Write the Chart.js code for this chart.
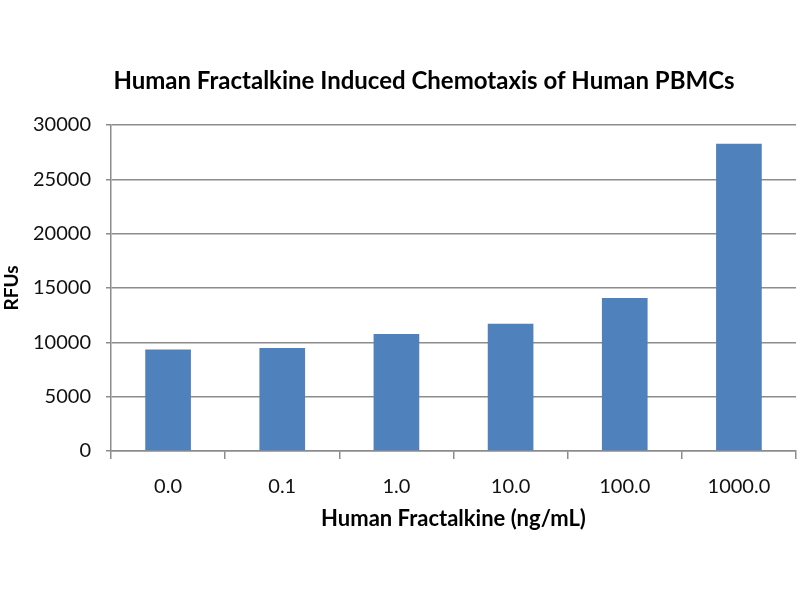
<!DOCTYPE html>
<html>
<head>
<meta charset="utf-8">
<script src="https://cdn.jsdelivr.net/npm/chart.js@4/dist/chart.umd.min.js"></script>
<style>
  html, body { margin: 0; padding: 0; background: #fff; }
  #wrap { width: 800px; height: 600px; }
</style>
</head>
<body>
<div id="wrap"><canvas id="chart" width="800" height="600"></canvas></div>
<script>
// Human Fractalkine chemotaxis bar chart

var doses = ['0.0', '0.1', '1.0', '10.0', '100.0', '1000.0'];
var rfus = [9350, 9470, 10760, 11710, 14080, 28280];
var yTicks = [0, 5000, 10000, 15000, 20000, 25000, 30000];

var titleText = 'Human Fractalkine Induced Chemotaxis of Human PBMCs';
var xTitle = 'Human Fractalkine (ng/mL)';
var yTitle = 'RFUs';

var fontFam = 'Lato, "Open Sans", sans-serif';
var gridCol = '#8c8c8c';

// title drawn over the plot, Excel style (centred a bit left of the plot centre)
const titlePlugin = {
  id: 'excelTitle',
  afterDraw(chart) {
    const ctx = chart.ctx;
    ctx.save();
    ctx.font = 'bold 24px ' + fontFam;
    ctx.fillStyle = '#000';
    ctx.textAlign = 'center';
    ctx.textBaseline = 'middle';
    ctx.fillText(titleText, 424, 81);
    ctx.restore();
  }
};

new Chart(document.getElementById('chart'), {
  type: 'bar',
  data: {
    labels: doses,
    datasets: [{
      data: rfus,
      backgroundColor: '#4F81BD',
      categoryPercentage: 1.0,
      barPercentage: 0.4
    }]
  },
  options: {
    responsive: false,
    animation: false,
    layout: { padding: { top: 125, right: 4, bottom: 64, left: 0 } },
    plugins: {
      legend: { display: false },
      tooltip: { enabled: false }
    },
    scales: {
      x: {
        offset: true,
        grid: {
          offset: true,
          drawOnChartArea: false,
          color: gridCol,
          lineWidth: 1.5,
          tickLength: 8
        },
        border: { color: gridCol, width: 1.5 },
        ticks: {
          color: '#111',
          font: { family: fontFam, size: 20 },
          padding: 16
        },
        title: {
          display: true,
          text: xTitle,
          color: '#000',
          font: { family: fontFam, size: 22, weight: 'bold' },
          padding: { top: 4, bottom: 4 }
        },
        afterFit(scale) { scale.height = 85; }
      },
      y: {
        min: 0,
        max: 30000,
        afterBuildTicks(scale) { scale.ticks = yTicks.map(v => ({ value: v })); },
        grid: {
          color: gridCol,
          lineWidth: 1.5,
          tickLength: 5
        },
        border: { color: gridCol, width: 1.5 },
        ticks: {
          color: '#111',
          font: { family: fontFam, size: 20 },
          padding: 15,
          callback: v => String(v)
        },
        title: {
          display: true,
          text: yTitle,
          color: '#000',
          font: { family: fontFam, size: 19, weight: 'bold' },
          padding: { top: 0, bottom: 4 }
        },
        afterFit(scale) { scale.width = 111; }
      }
    }
  },
  plugins: [titlePlugin]
});
</script>
</body>
</html>
